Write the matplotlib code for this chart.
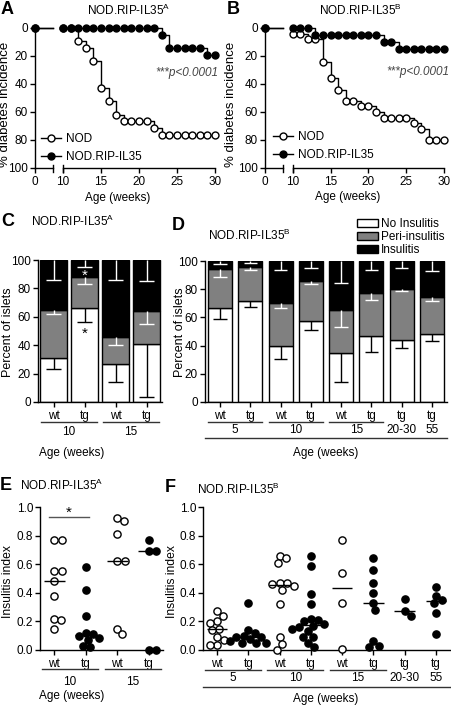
import numpy as np
import matplotlib
matplotlib.use("Agg")
import matplotlib.pyplot as plt
from matplotlib import transforms
from matplotlib.patches import Patch
from matplotlib.lines import Line2D
from matplotlib.ticker import FormatStrFormatter

plt.rcParams["font.family"] = ["Liberation Sans", "DejaVu Sans"]
plt.rcParams["font.size"] = 8.5
plt.rcParams["mathtext.default"] = "regular"
plt.rcParams["axes.linewidth"] = 1.0
plt.rcParams["xtick.major.width"] = 1.0
plt.rcParams["ytick.major.width"] = 1.0
plt.rcParams["xtick.major.size"] = 3.5
plt.rcParams["ytick.major.size"] = 3.5
plt.rcParams["xtick.major.pad"] = 2
plt.rcParams["ytick.major.pad"] = 1.5

# ---------------- data ----------------
# A / B: cumulative diabetes incidence (%), week 0 then weekly 10..30
weeks = [0, 10, 11, 12, 13, 14, 15, 16, 17, 18, 19, 20,
         21, 22, 23, 24, 25, 26, 27, 28, 29, 30]
a_nod = [0, 0, 0, 9.5, 14.3, 23.8, 42.9, 52.4, 61.9, 66.7, 66.7, 66.7,
         66.7, 71.4, 76.2, 76.2, 76.2, 76.2, 76.2, 76.2, 76.2, 76.2]
a_tg = [0, 0, 0, 0, 0, 0, 0, 0, 0, 0, 0, 0,
        0, 0, 4.8, 14.3, 14.3, 14.3, 14.3, 14.3, 19.0, 19.0]
b_nod = [0, 4, 4, 8, 8, 24, 36, 44, 52, 52, 56, 56,
         60, 64, 64, 64, 64, 68, 72, 80, 80, 80]
b_tg = [0, 0, 0, 0, 5, 5, 5, 5, 5, 5, 5, 5,
        5, 10, 10, 15, 15, 15, 15, 15, 15, 15]

# C / D: percent of islets per category, with SEM
c_ticks = ["wt", "tg", "wt", "tg"]
c_groups = ["10", "15"]
c_gidx = [0, 0, 1, 1]
c_no = [31, 66, 27, 40.7]
c_peri = [34, 21.8, 19, 23.3]
c_ins = [35, 12.2, 54, 36]
c_no_err = [7.5, 10, 13, 37]
c_peri_err = [3, 4.8, 6, 9.4]
c_ins_err = [14, 4.7, 14, 15]

d_ticks = ["wt", "tg", "wt", "tg", "wt", "tg", "tg", "tg"]
d_groups = ["5", "10", "15", "20-30", "55"]
d_gidx = [0, 0, 1, 1, 2, 2, 3, 4]
d_no = [66.4, 71.8, 39.5, 57.2, 34.6, 46.6, 44, 48.2]
d_peri = [27.6, 24.2, 30.9, 28.7, 30.8, 30.6, 36, 26.4]
d_ins = [6, 4, 29.6, 14.1, 34.6, 22.8, 20, 25.4]
d_no_err = [7.4, 4.5, 8.9, 5.9, 20.5, 11.3, 5.9, 4.7]
d_peri_err = [5.3, 2.5, 4, 2.4, 12.5, 4.7, 1.6, 2.8]
d_ins_err = [2.1, 1.7, 6.4, 5.2, 15.3, 6.4, 5.2, 7.1]

# E / F: insulitis index per mouse
e_ticks = ["wt", "tg", "wt", "tg"]
e_groups = ["10", "15"]
e_gidx = [0, 0, 1, 1]
e_vals = [
    [0.77, 0.77, 0.55, 0.55, 0.48, 0.38, 0.22, 0.21, 0.15],
    [0.58, 0.42, 0.24, 0.12, 0.11, 0.10, 0.085, 0.07, 0.03, 0.02],
    [0.92, 0.90, 0.81, 0.62, 0.62, 0.15, 0.11],
    [0.77, 0.69, 0.69, 0.0, 0.0],
]

f_ticks = ["wt", "tg", "wt", "tg", "wt", "tg", "tg", "tg"]
f_groups = ["5", "10", "15", "20-30", "55"]
f_gidx = [0, 0, 1, 1, 2, 2, 3, 4]
f_vals = [
    [0.27, 0.24, 0.20, 0.19, 0.15, 0.14, 0.09, 0.07, 0.035, 0.035],
    [0.33, 0.14, 0.12, 0.10, 0.09, 0.09, 0.08, 0.06, 0.05, 0.05, 0.05],
    [0.66, 0.64, 0.61, 0.47, 0.47, 0.46, 0.45, 0.42, 0.32, 0.09, 0.04, 0.0],
    [0.66, 0.59, 0.39, 0.32, 0.22, 0.21, 0.20, 0.18, 0.17, 0.16, 0.15,
     0.13, 0.09, 0.09, 0.05, 0.02],
    [0.77, 0.54, 0.33, 0.01],
    [0.64, 0.56, 0.47, 0.40, 0.33, 0.28, 0.06, 0.03, 0.02],
    [0.36, 0.27, 0.24],
    [0.44, 0.38, 0.35, 0.33, 0.26, 0.11],
]

# ---------------- layout helpers (pixel based) ----------------
W, H = 451, 707
fig = plt.figure(figsize=(W / 100, H / 100), dpi=100)


def box(l, t, r, b):
    return [l / W, 1 - b / H, (r - l) / W, (b - t) / H]


def fy(y):
    return 1 - y / H


def ftext(x, y, s, **kw):
    kw.setdefault("ha", "center")
    kw.setdefault("va", "center")
    fig.text(x / W, fy(y), s, **kw)


def clean(ax):
    for s in ("top", "right"):
        ax.spines[s].set_visible(False)


def group_rows(ax, gidx, groups, y_line, y_text, half=0.4, y_long=None):
    tr = transforms.blended_transform_factory(ax.transData, fig.transFigure)
    gidx = np.array(gidx)
    for g, name in enumerate(groups):
        m = np.where(gidx == g)[0]
        lo, hi = m.min(), m.max()
        if len(m) > 1:
            ax.plot([lo - half, hi + half], [fy(y_line)] * 2, color="#333333",
                    lw=1, transform=tr, clip_on=False)
        ax.text((lo + hi) / 2, fy(y_text), name, transform=tr,
                ha="center", va="center")
    if y_long is not None:
        ax.plot(ax.get_xlim(), [fy(y_long)] * 2, color="#333333", lw=1,
                transform=tr, clip_on=False)


# ---------------- A / B survival curves ----------------
K = 0.368      # compression of the 0-10 week stretch
BRK = 6.4      # end of the first axis segment


def fwd(x):
    x = np.asarray(x, float)
    return np.where(x < 10, x * K, x - 10 + 10 * K)


def inv(u):
    u = np.asarray(u, float)
    return np.where(u < 10 * K, u / K, u + 10 - 10 * K)


def survival(rect, nod, tg, leg_xy, p_xy):
    ax = fig.add_axes(rect)
    ax.set_xscale("function", functions=(fwd, inv))
    ax.set_xlim(0, 30)
    ax.set_ylim(100, 0)
    clean(ax)
    ax.spines["bottom"].set_visible(False)
    xt = ax.get_xaxis_transform()
    for seg in ((0, BRK), (10, 30)):
        ax.plot(seg, [0, 0], color="k", lw=1, transform=xt, clip_on=False)
    for xb in (BRK, 10):
        ax.plot([xb, xb], [-0.03, 0.025], color="k", lw=1, transform=xt,
                clip_on=False)
    ax.set_xticks([0, 10, 15, 20, 25, 30], ["0", "10", "15", "20", "25", "30"])
    ax.set_yticks([0, 20, 40, 60, 80, 100])
    for vals, face, z in ((nod, "white", 3), (tg, "black", 4)):
        ax.plot([weeks[0], BRK], [vals[0], vals[0]], color="k", lw=1,
                clip_on=False, zorder=z)
        ax.step(weeks[1:], vals[1:], where="post", color="k", lw=1,
                clip_on=False, zorder=z)
        ax.plot(weeks, vals, ls="none", marker="o", ms=5, mfc=face, mec="k",
                mew=1, clip_on=False, zorder=z)
    h1 = Line2D([], [], color="k", lw=1, marker="o", ms=5, mfc="white", mec="k")
    h2 = Line2D([], [], color="k", lw=1, marker="o", ms=5, mfc="k", mec="k")
    ax.legend([h1, h2], ["NOD", "NOD.RIP-IL35"], loc="upper left",
              bbox_to_anchor=(leg_xy[0] / W, fy(leg_xy[1])),
              bbox_transform=fig.transFigure, frameon=False,
              handlelength=1.7, handletextpad=0.4, labelspacing=0.5,
              borderpad=0, borderaxespad=0)
    ftext(p_xy[0], p_xy[1], "***p<0.0001", ha="right", style="italic",
          color="#444444")
    return ax


survival(box(35, 28, 215, 168), a_nod, a_tg, (41, 133), (218, 73))
survival(box(265, 28, 444, 168), b_nod, b_tg, (273, 131), (449, 72))

# ---------------- C / D stacked bars ----------------
def bars(rect, ticks, gidx, groups, no, peri, ins, e_no, e_peri, e_ins,
         width, cap, y_line, y_text, y_long=None):
    ax = fig.add_axes(rect)
    x = np.arange(len(ticks))
    no, peri, ins = np.array(no), np.array(peri), np.array(ins)
    ax.bar(x, no, width, color="white", edgecolor="k", lw=1, zorder=2)
    ax.bar(x, peri, width, bottom=no, color="#808080", edgecolor="k", lw=1,
           zorder=2)
    ax.bar(x, ins, width, bottom=no + peri, color="k", edgecolor="k", lw=1,
           zorder=2)
    for top, err, col in ((no, e_no, "k"), (no + peri, e_peri, "white"),
                          (no + peri + ins, e_ins, "white")):
        err = np.array(err)
        ax.vlines(x, top - err, top, colors=col, lw=1, zorder=3)
        ax.hlines(top - err, x - cap, x + cap, colors=col, lw=1, zorder=3)
    ax.set_xlim(-0.5, len(ticks) - 0.5)
    ax.set_ylim(0, 100)
    ax.set_yticks([0, 20, 40, 60, 80, 100])
    ax.set_xticks(x, ticks)
    clean(ax)
    group_rows(ax, gidx, groups, y_line, y_text, y_long=y_long)
    return ax


ax_c = bars(box(38, 260, 162, 402), c_ticks, c_gidx, c_groups, c_no, c_peri,
            c_ins, c_no_err, c_peri_err, c_ins_err, 0.84, 0.23, 422, 432)
ax_c.text(1, 45, "*", ha="center", va="baseline", fontsize=11, zorder=5)
ax_c.text(1, 86, "*", ha="center", va="baseline", fontsize=11, color="white",
          zorder=5)

ax_d = bars(box(205, 261, 447, 402), d_ticks, d_gidx, d_groups, d_no, d_peri,
            d_ins, d_no_err, d_peri_err, d_ins_err, 0.8, 0.22, 422, 430,
            y_long=438)
ax_d.legend([Patch(facecolor=c, edgecolor="k", lw=1)
             for c in ("white", "#808080", "k")],
            ["No Insulitis", "Peri-insulitis", "Insulitis"],
            loc="upper left", bbox_to_anchor=(357 / W, fy(218)),
            bbox_transform=fig.transFigure, frameon=False, handlelength=1.75,
            handleheight=0.65, handletextpad=0.25, labelspacing=0.1,
            borderpad=0, borderaxespad=0)

# ---------------- E / F dot plots ----------------
def swarm(vals, xpx, ypx, d=7.4):
    vals = np.asarray(vals, float)
    pos = {}
    for i in np.argsort(-vals, kind="stable"):
        y = vals[i] * ypx
        cands = [0.0]
        for j, xj in pos.items():
            dy = abs(vals[j] * ypx - y)
            if dy < d:
                dx = np.sqrt(d * d - dy * dy)
                cands += [xj + dx, xj - dx]
        ok = [c for c in cands
              if all((c - xj) ** 2 + (vals[j] * ypx - y) ** 2 >= d * d - 1e-6
                     for j, xj in pos.items())]
        pos[i] = min(ok, key=abs)
    return np.array([pos[i] for i in range(len(vals))]) / xpx


def dots(l, t, r, b, ticks, gidx, groups, vals, y_line, y_text, y_long=None):
    ax = fig.add_axes(box(l, t, r, b))
    n = len(ticks)
    ax.set_xlim(-0.45, n - 0.55)
    ax.set_ylim(0, 1)
    xpx = (r - l) / (n - 0.1)
    ypx = b - t
    for i, (tk, v) in enumerate(zip(ticks, vals)):
        off = swarm(v, xpx, ypx)
        face = "white" if tk == "wt" else "black"
        ax.plot(i + off, v, ls="none", marker="o", ms=5.2, mfc=face, mec="k",
                mew=1, clip_on=False, zorder=3)
        ax.hlines(np.median(v), i - 0.33, i + 0.33, color="k", lw=1, zorder=4)
    ax.set_xticks(np.arange(n), ticks)
    ax.set_yticks([0, 0.2, 0.4, 0.6, 0.8, 1.0])
    ax.yaxis.set_major_formatter(FormatStrFormatter("%.1f"))
    clean(ax)
    group_rows(ax, gidx, groups, y_line, y_text, y_long=y_long)
    return ax


ax_e = dots(40, 507, 163, 650, e_ticks, e_gidx, e_groups, e_vals, 669, 682)
ax_e.plot([0 - 0.17, 1 + 0.1], [0.93, 0.93], color="#555555", lw=1)
ax_e.text(0.45, 0.935, "*", ha="center", va="baseline", fontsize=11)

dots(203, 507, 450, 650, f_ticks, f_gidx, f_groups, f_vals, 670, 678,
     y_long=687)

# ---------------- titles, panel letters, axis labels ----------------
title = "NOD.RIP-IL35$^{%s}$"
for x, y, sup in ((129, 10, "A"), (360, 10, "B"), (73, 221, "A"),
                  (249, 235, "B"), (62, 485, "A"), (238, 489, "B")):
    ftext(x, y, title % sup)

for x, y, s in ((7, 9, "A"), (233, 9, "B"), (8, 221, "C"), (178, 226, "D"),
                (6, 486, "E"), (170, 487, "F")):
    ftext(x, y, s, fontsize=13, fontweight="bold")

for x, y, s, fs in ((5, 104, "% diabetes incidence", 9.5),
                    (231, 104, "% diabetes incidence", 9.5),
                    (8, 332, "Percent of islets", 9),
                    (180, 332, "Percent of islets", 9),
                    (8, 582, "Insulitis index", 8.7),
                    (172, 582, "Insulitis index", 8.7)):
    ftext(x, y, s, rotation=90, fontsize=fs)

for x, y in ((118, 198), (348, 197), (72, 453), (326, 453), (72, 696),
             (326, 699)):
    ftext(x, y, "Age (weeks)")

fig.savefig("out.png", dpi=100)
